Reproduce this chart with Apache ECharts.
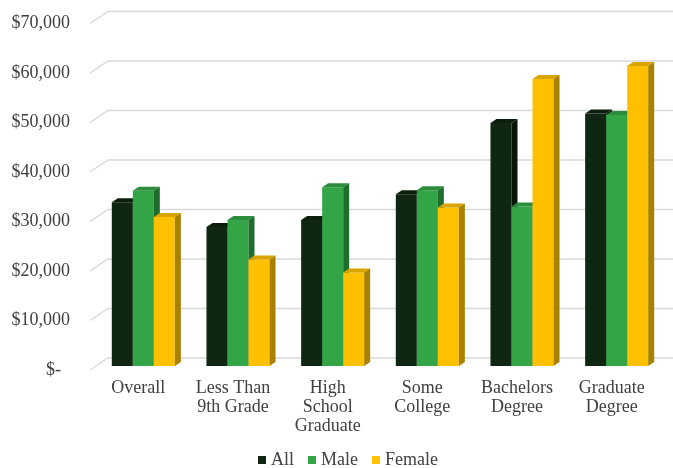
<!DOCTYPE html>
<html>
<head>
<meta charset="utf-8">
<script src="https://cdn.jsdelivr.net/npm/echarts@6/dist/echarts.min.js"></script>
<style>
  html, body { margin: 0; padding: 0; background: #ffffff; }
  #chart { width: 673px; height: 468px; }
</style>
</head>
<body>
<div id="chart"></div>
<script>
// Median earnings by education level
var categories = ['Overall', 'Less Than\n9th Grade', 'High\nSchool\nGraduate', 'Some\nCollege', 'Bachelors\nDegree', 'Graduate\nDegree'];
var allValues = [33100, 28100, 29500, 34700, 49100, 51000];
var maleValues = [35400, 29500, 36100, 35500, 32200, 50700];
var femaleValues = [30100, 21500, 18900, 32000, 58000, 60600];
var yTicks = [0, 10000, 20000, 30000, 40000, 50000, 60000, 70000];

var FONT = '"Liberation Serif", "Times New Roman", serif';
var TEXT = '#404040';

// colour sets: front, top, side
var palettes = [
  { front: '#0e2612', top: '#0c1e0e', side: '#081608' },
  { front: '#33a546', top: '#2b8c3b', side: '#1f6d2c' },
  { front: '#ffc000', top: '#d9a400', side: '#a98100' }
];

var DEPTH_X = 6, DEPTH_Y = -4;

function barRenderer(slot) {
  var pal = palettes[slot];
  return function (params, api) {
    var idx = api.value(0);
    var val = api.value(1);
    var topPt = api.coord([idx, val]);
    var basePt = api.coord([idx, 0]);
    var band = api.size([1, 0])[0];
    var w = band * 0.222;
    var left = topPt[0] + (slot - 1.5) * w;
    var right = left + w;
    var top = topPt[1];
    var bottom = basePt[1];
    return {
      type: 'group',
      children: [
        {
          type: 'rect',
          shape: { x: left, y: top, width: w, height: bottom - top },
          style: { fill: pal.front }
        },
        {
          type: 'polygon',
          shape: { points: [[left, top], [left + DEPTH_X, top + DEPTH_Y], [right + DEPTH_X, top + DEPTH_Y], [right, top]] },
          style: { fill: pal.top }
        },
        {
          type: 'polygon',
          shape: { points: [[right, top], [right + DEPTH_X, top + DEPTH_Y], [right + DEPTH_X, bottom + DEPTH_Y], [right, bottom]] },
          style: { fill: pal.side }
        }
      ]
    };
  };
}

// back-wall gridlines with the short floor diagonal on the left
function gridRenderer(params, api) {
  var cs = params.coordSys;
  var y = api.coord([0, api.value(0)])[1];
  return {
    type: 'polyline',
    shape: { points: [[cs.x - 6, y + 4], [cs.x + 12, y - 8], [cs.x + cs.width + 9, y - 8]] },
    style: { stroke: '#d9d9d9', lineWidth: 1.5, fill: null }
  };
}

function toPairs(arr) {
  return arr.map(function (v, i) { return [i, v]; });
}

var chart = echarts.init(document.getElementById('chart'));
chart.setOption({
  backgroundColor: '#ffffff',
  animation: false,
  textStyle: { fontFamily: FONT },
  grid: { left: 96, right: 9, top: 19.5, bottom: 102, containLabel: false },
  legend: {
    data: ['All', 'Male', 'Female'],
    left: 253,
    top: 446,
    icon: 'rect',
    itemWidth: 8,
    itemHeight: 8,
    itemGap: 14,
    textStyle: { fontFamily: FONT, fontSize: 18, color: TEXT }
  },
  xAxis: {
    type: 'category',
    data: categories,
    axisLine: { show: false },
    axisTick: { show: false },
    axisLabel: {
      interval: 0,
      margin: 13,
      fontFamily: FONT,
      fontSize: 18,
      lineHeight: 19,
      color: TEXT,
      padding: [0, 10, 0, 0]
    }
  },
  yAxis: {
    type: 'value',
    min: 0,
    max: 70000,
    interval: 10000,
    splitLine: { show: false },
    axisLine: { show: false },
    axisTick: { show: false },
    axisLabel: {
      margin: 26,
      fontFamily: FONT,
      fontSize: 18,
      color: TEXT,
      padding: [8, 0, 0, 0],
      formatter: function (v) {
        if (v === 0) return '{z|$-}';
        return '$' + v.toLocaleString('en-US');
      },
      rich: {
        z: { fontFamily: FONT, fontSize: 18, color: TEXT, padding: [0, 9, 0, 0] }
      }
    }
  },
  series: [
    {
      type: 'custom',
      name: 'grid',
      silent: true,
      z: 0,
      data: yTicks.map(function (v) { return [v]; }),
      encode: { y: 0 },
      renderItem: gridRenderer
    },
    {
      type: 'custom',
      name: 'All',
      z: 2,
      itemStyle: { color: palettes[0].front },
      data: toPairs(allValues),
      encode: { x: 0, y: 1 },
      renderItem: barRenderer(0)
    },
    {
      type: 'custom',
      name: 'Male',
      z: 2,
      itemStyle: { color: palettes[1].front },
      data: toPairs(maleValues),
      encode: { x: 0, y: 1 },
      renderItem: barRenderer(1)
    },
    {
      type: 'custom',
      name: 'Female',
      z: 2,
      itemStyle: { color: palettes[2].front },
      data: toPairs(femaleValues),
      encode: { x: 0, y: 1 },
      renderItem: barRenderer(2)
    }
  ]
});
</script>
</body>
</html>
